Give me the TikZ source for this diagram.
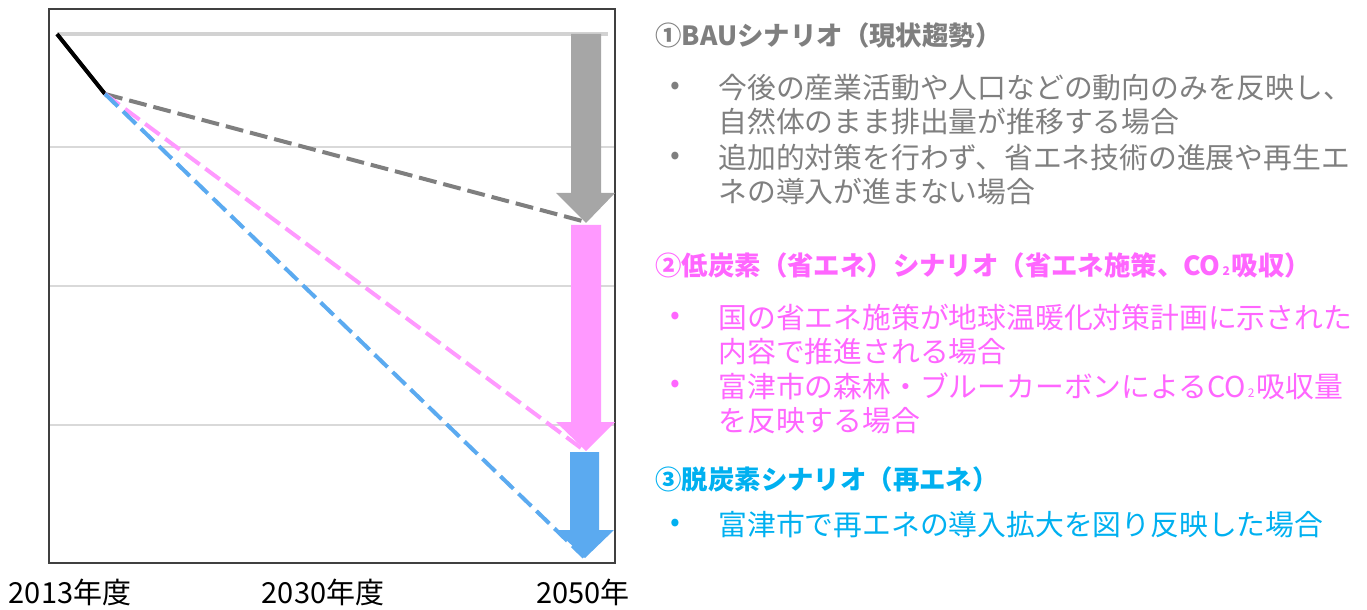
\documentclass[tikz,border=0pt]{standalone}
\usepackage{fontspec}
\setmainfont{Noto Sans CJK JP}
\usepackage{xcolor}
\usepackage{tikz}
\definecolor{BauGray}{RGB}{127,127,127}
\definecolor{ArrowGray}{RGB}{166,166,166}
\definecolor{LowPink}{RGB}{255,153,255}
\definecolor{LowPinkText}{RGB}{255,102,255}
\definecolor{ZeroBlue}{RGB}{91,170,240}
\definecolor{ZeroBlueText}{RGB}{0,176,240}
\definecolor{GridGray}{RGB}{217,217,217}
\definecolor{TopGray}{RGB}{210,210,210}
\tikzstyle{scentitle} = [anchor=west, inner sep=0pt, font=\fontsize{13.2pt}{16pt}\selectfont\bfseries]
\tikzstyle{bulletdot} = [inner sep=0pt, font=\fontsize{14.4pt}{17pt}\selectfont]
\tikzstyle{itemtext} = [anchor=west, align=left, inner sep=0pt, font=\fontsize{14.4pt}{17pt}\selectfont]
\tikzstyle{yearlabel} = [inner sep=0pt, font=\fontsize{14.5pt}{17pt}\selectfont]
\tikzstyle{trend} = [line width=2pt, dash pattern=on 9pt off 3.5pt]
\tikzstyle{gridline} = [GridGray, line width=0.7pt]
\usetikzlibrary{positioning}

\begin{document}
\begin{tikzpicture}[x=0.5pt, y=-0.5pt]
\useasboundingbox (0,0) rectangle (1367,610);

% Grille
\draw [gridline] (49,147) -- (615,147);
\draw [gridline] (49,286) -- (615,286);
\draw [gridline] (49,425) -- (615,425);
\draw [line width=1pt, black!75] (49,9) rectangle (615,563);

% Points
\coordinate (start) at (57,34);
\coordinate (kink) at (105,94);
\coordinate (bauend) at (586,222);
\coordinate (lowend) at (585,451);
\coordinate (zeroend) at (584,557);

% Niveau 2013
\draw [TopGray, line width=2.2pt] (start) -- (608,34);

% Fleches
\fill [ArrowGray] (571,34) -- (601,34) -- (601,193) -- (615,193) -- (586,223) -- (556,193) -- (571,193) -- cycle;
\fill [LowPink] (571,225) -- (601,225) -- (601,422) -- (615,422) -- (586,451) -- (556,422) -- (571,422) -- cycle;
\fill [ZeroBlue] (570,452) -- (599,452) -- (599,530) -- (614,530) -- (585,558) -- (556,530) -- (570,530) -- cycle;

% Tendances
\draw [line width=2pt] (start) -- (kink);
\draw [trend, BauGray] (kink) -- (bauend);
\draw [trend, LowPink] (kink) -- (lowend);
\draw [trend, ZeroBlue] (kink) -- (zeroend);

% Annees
\node (y2013) [yearlabel] at (70,592) {2013年度};
\node (y2030) [yearlabel] at (323,592) {2030年度};
\node (y2050) [yearlabel] at (583,592) {2050年};

% Scenario 1
\node (bau) [scentitle, BauGray] at (655,35) {①BAUシナリオ（現状趨勢）};
\node (baudot1) [bulletdot, BauGray] at (675,88) {•};
\node (bauitem1) [itemtext, BauGray] at (718,105) {今後の産業活動や人口などの動向のみを反映し、\\自然体のまま排出量が推移する場合};
\node (baudot2) [bulletdot, BauGray] at (675,158) {•};
\node (bauitem2) [itemtext, BauGray] at (718,175) {追加的対策を行わず、省エネ技術の進展や再生エ\\ネの導入が進まない場合};

% Scenario 2
\node (low) [scentitle, LowPinkText] at (655,265) {②低炭素（省エネ）シナリオ（省エネ施策、CO{\fontsize{6pt}{6pt}\selectfont\,2\,}吸収）};
\node (lowdot1) [bulletdot, LowPinkText] at (675,318) {•};
\node (lowitem1) [itemtext, LowPinkText] at (718,335) {国の省エネ施策が地球温暖化対策計画に示された\\内容で推進される場合};
\node (lowdot2) [bulletdot, LowPinkText] at (675,386) {•};
\node (lowitem2) [itemtext, LowPinkText] at (718,403) {富津市の森林・ブルーカーボンによるCO{\fontsize{6pt}{6pt}\selectfont\,2\,}吸収量\\を反映する場合};

% Scenario 3
\node (zero) [scentitle, ZeroBlueText] at (655,479) {③脱炭素シナリオ（再エネ）};
\node (zerodot) [bulletdot, ZeroBlueText] at (675,525) {•};
\node (zeroitem) [itemtext, ZeroBlueText] at (718,525) {富津市で再エネの導入拡大を図り反映した場合};

\end{tikzpicture}
\end{document}
